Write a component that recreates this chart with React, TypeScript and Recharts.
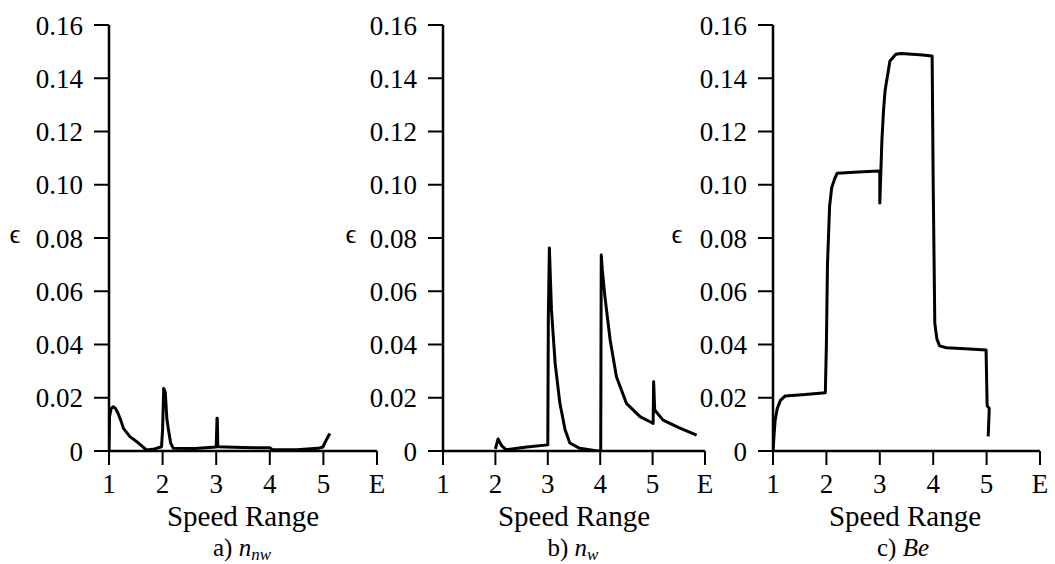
import React from 'react';
import { LineChart, Line, XAxis, YAxis } from 'recharts';

// ---- data ----
const xTicks = [1, 2, 3, 4, 5, 6];
const yTicks = [0, 0.02, 0.04, 0.06, 0.08, 0.1, 0.12, 0.14, 0.16];

// a) n_nw
const speedA = [1.0, 1.01, 1.04, 1.08, 1.12, 1.17, 1.22, 1.27, 1.39, 1.55, 1.7, 1.85, 1.98, 2.0, 2.02, 2.05, 2.08, 2.11, 2.15, 2.2, 2.6, 3.0, 3.015, 3.02, 3.03, 3.5, 4.0, 4.05, 4.5, 4.9, 4.99, 5.05, 5.12];
const epsA = [0.0, 0.013, 0.016, 0.0166, 0.016, 0.0141, 0.0115, 0.0085, 0.0054, 0.003, 0.0004, 0.0008, 0.0016, 0.008, 0.0235, 0.022, 0.012, 0.0079, 0.003, 0.001, 0.0009, 0.0015, 0.0123, 0.0123, 0.0016, 0.0013, 0.0012, 0.0005, 0.0005, 0.001, 0.0015, 0.004, 0.0066];

// b) n_w
const speedB = [2.0, 2.05, 2.12, 2.2, 2.6, 3.0, 3.01, 3.03, 3.07, 3.14, 3.23, 3.33, 3.42, 3.61, 3.95, 4.01, 4.02, 4.04, 4.09, 4.19, 4.31, 4.5, 4.76, 4.95, 5.01, 5.02, 5.04, 5.2, 5.5, 5.84];
const epsB = [0.0008, 0.0045, 0.002, 0.0005, 0.0015, 0.0023, 0.05, 0.0762, 0.053, 0.033, 0.018, 0.008, 0.003, 0.001, 0.0, 0.0, 0.0736, 0.068, 0.058, 0.0417, 0.0279, 0.0179, 0.0129, 0.011, 0.0104, 0.026, 0.0154, 0.0116, 0.0088, 0.006];

// c) Be
const speedC = [1.0, 1.02, 1.04, 1.08, 1.14, 1.23, 1.6, 1.98, 2.0, 2.02, 2.06, 2.1, 2.15, 2.2, 2.6, 2.98, 3.0, 3.0, 3.02, 3.04, 3.07, 3.1, 3.19, 3.3, 3.39, 3.75, 3.98, 4.0, 4.03, 4.07, 4.12, 4.25, 4.6, 4.99, 5.01, 5.05, 5.03];
const epsC = [0.0, 0.006, 0.0116, 0.016, 0.019, 0.0207, 0.0212, 0.0219, 0.04, 0.07, 0.092, 0.099, 0.102, 0.1043, 0.1048, 0.1052, 0.1052, 0.0931, 0.105, 0.117, 0.128, 0.1356, 0.1465, 0.149, 0.1493, 0.1488, 0.1484, 0.1, 0.048, 0.042, 0.0395, 0.0388, 0.0384, 0.0379, 0.017, 0.016, 0.0055];

const toRows = (xs: number[], ys: number[]) => xs.map((x, i) => ({ x, y: ys[i] }));

const fmtX = (v: number) => (v === 6 ? 'E' : String(v));
const fmtY = (v: number) => (v === 0 ? '0' : v.toFixed(2));

type PanelProps = {
  left: number;
  width: number;
  yAxisWidth: number;
  rightMargin: number;
  rows: { x: number; y: number }[];
};

const tickStyle = { fill: '#000', fontSize: 27 };

const css = `
#chart-root, #chart-root * { font-family: "Liberation Serif", "Times New Roman", Tinos, serif !important; }
`;

const Panel = ({ left, width, yAxisWidth, rightMargin, rows }: PanelProps) => (
  <div style={{ position: 'absolute', left, top: 0 }}>
    <LineChart
      width={width}
      height={564}
      data={rows}
      margin={{ top: 25, right: rightMargin, bottom: 73, left: 0 }}
    >
      <XAxis
        dataKey="x"
        type="number"
        domain={[1, 6]}
        ticks={xTicks}
        tickFormatter={fmtX}
        allowDataOverflow
        height={40}
        axisLine={{ stroke: '#000', strokeWidth: 2.5 }}
        tickLine={{ stroke: '#000', strokeWidth: 2 }}
        tickSize={14}
        tickMargin={9}
        tick={tickStyle}
        interval={0}
      />
      <YAxis
        dataKey="y"
        type="number"
        domain={[0, 0.16]}
        ticks={yTicks}
        tickFormatter={fmtY}
        allowDataOverflow
        width={yAxisWidth}
        axisLine={{ stroke: '#000', strokeWidth: 2.5 }}
        tickLine={{ stroke: '#000', strokeWidth: 2 }}
        tickSize={15}
        tickMargin={11}
        tick={tickStyle}
        interval={0}
      />
      <Line
        type="linear"
        dataKey="y"
        stroke="#000"
        strokeWidth={3}
        strokeLinejoin="round"
        dot={false}
        activeDot={false}
        isAnimationActive={false}
      />
    </LineChart>
  </div>
);

const speedCenters = [243, 574, 905];
const captionCenters = [242, 573, 903];
const epsX = [15, 351, 677];

export default function App() {
  return (
    <div id="chart-root" style={{ position: 'absolute', left: 0, top: 0, width: 1055, height: 564, background: '#fff', overflow: 'hidden' }}>
      <style>{css}</style>
      <Panel left={0} width={400} yAxisWidth={109} rightMargin={23} rows={toRows(speedA, epsA)} />
      <Panel left={340} width={390} yAxisWidth={103} rightMargin={25} rows={toRows(speedB, epsB)} />
      <Panel left={680} width={375} yAxisWidth={93} rightMargin={15} rows={toRows(speedC, epsC)} />
      <svg width={1055} height={564} style={{ position: 'absolute', left: 0, top: 0, pointerEvents: 'none' }}>
        {speedCenters.map((cx, i) => (
          <text key={'s' + i} x={cx} y={526} fontSize={29} fill="#000" textAnchor="middle">Speed Range</text>
        ))}
        {epsX.map((ex, i) => (
          <text key={'e' + i} x={ex} y={243} fontSize={27} fill="#000" textAnchor="middle">ϵ</text>
        ))}
        <text x={captionCenters[0]} y={556} fontSize={25} fill="#000" textAnchor="middle">
          <tspan>a) </tspan>
          <tspan fontStyle="italic">n</tspan>
          <tspan fontStyle="italic" fontSize={17} dy={4}>nw</tspan>
        </text>
        <text x={captionCenters[1]} y={556} fontSize={25} fill="#000" textAnchor="middle">
          <tspan>b) </tspan>
          <tspan fontStyle="italic">n</tspan>
          <tspan fontStyle="italic" fontSize={17} dy={4}>w</tspan>
        </text>
        <text x={captionCenters[2]} y={556} fontSize={25} fill="#000" textAnchor="middle">
          <tspan>c) </tspan>
          <tspan fontStyle="italic">Be</tspan>
        </text>
      </svg>
    </div>
  );
}
